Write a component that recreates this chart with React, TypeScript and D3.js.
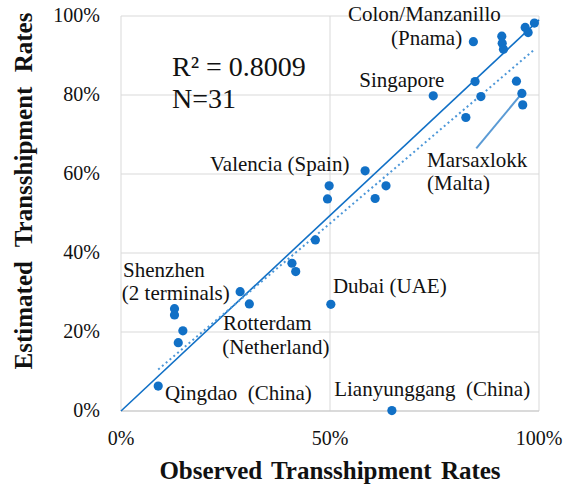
import React from "react";
import * as d3 from "d3";

// Observed vs. estimated transshipment rates, one entry per port
const observed = [
  0.989, 0.967, 0.974, 0.911, 0.912, 0.915, 0.843, 0.847, 0.946, 0.747,
  0.861, 0.959, 0.961, 0.825, 0.584, 0.498, 0.494, 0.634, 0.608, 0.465,
  0.409, 0.418, 0.285, 0.307, 0.128, 0.128, 0.148, 0.137, 0.089, 0.502,
  0.648,
];
const estimated = [
  0.982, 0.971, 0.958, 0.949, 0.931, 0.916, 0.935, 0.834, 0.835, 0.798,
  0.796, 0.804, 0.775, 0.743, 0.608, 0.57, 0.537, 0.57, 0.538, 0.433,
  0.374, 0.353, 0.302, 0.271, 0.259, 0.243, 0.203, 0.173, 0.063, 0.27,
  0.001,
];

const yTicks = [0, 0.2, 0.4, 0.6, 0.8, 1];
const xTicks = [0, 0.5, 1];

// 45-degree reference line
const refLine: [number, number][] = [
  [0, 0],
  [1, 0.99],
];

// Port name annotations: text plus the data-space anchor of its baseline start
const portLabels: { text: string; x: number; y: number }[] = [
  { text: "Colon/Manzanillo", x: 0.543, y: 0.987 },
  { text: "(Pnama)", x: 0.646, y: 0.927 },
  { text: "Singapore", x: 0.57, y: 0.82 },
  { text: "Marsaxlokk", x: 0.732, y: 0.618 },
  { text: "(Malta)", x: 0.732, y: 0.56 },
  { text: "Valencia (Spain)", x: 0.213, y: 0.607 },
  { text: "Shenzhen", x: 0.005, y: 0.339 },
  { text: "(2 terminals)", x: 0.002, y: 0.281 },
  { text: "Rotterdam", x: 0.244, y: 0.205 },
  { text: "(Netherland)", x: 0.242, y: 0.144 },
  { text: "Qingdao  (China)", x: 0.105, y: 0.028 },
  { text: "Dubai (UAE)", x: 0.507, y: 0.299 },
  { text: "Lianyunggang  (China)", x: 0.51, y: 0.038 },
];

const W = 568;
const H = 484;
const plot = { left: 121, right: 539, top: 16, bottom: 411 };
const serif = '"Liberation Serif", "Times New Roman", Tinos, "DejaVu Serif", serif';
const blue = "#1170c6";

export default function App() {
  const x = d3.scaleLinear().domain([0, 1]).range([plot.left, plot.right]);
  const y = d3.scaleLinear().domain([0, 1]).range([plot.bottom, plot.top]);

  // Least-squares trendline over the observed range
  const mx = d3.mean(observed) as number;
  const my = d3.mean(estimated) as number;
  let sxy = 0;
  let sxx = 0;
  observed.forEach((v, i) => {
    sxy += (v - mx) * (estimated[i] - my);
    sxx += (v - mx) * (v - mx);
  });
  const slope = sxy / sxx;
  const intercept = my - slope * mx;
  const [xmin, xmax] = d3.extent(observed) as [number, number];
  const trend: [number, number][] = [
    [xmin, intercept + slope * xmin],
    [xmax, intercept + slope * xmax],
  ];
  const line = d3
    .line<[number, number]>()
    .x((d) => x(d[0]))
    .y((d) => y(d[1]));

  // Marsaxlokk pointer
  const malta = 11;
  const pointer: [number, number][] = [
    [observed[malta], estimated[malta]],
    [0.85, 0.665],
  ];

  const txt = { fontFamily: serif, fill: "#111" } as React.CSSProperties;

  return (
    <svg
      width={W}
      height={H}
      style={{ position: "absolute", left: 0, top: 0, background: "#fff", fontFamily: serif }}
    >
      {/* grid */}
      {yTicks.map((t) => (
        <line
          key={"gy" + t}
          x1={plot.left}
          x2={plot.right}
          y1={y(t)}
          y2={y(t)}
          stroke="#d9d9d9"
          strokeWidth={1}
        />
      ))}
      {xTicks.map((t) => (
        <line
          key={"gx" + t}
          x1={x(t)}
          x2={x(t)}
          y1={plot.top}
          y2={plot.bottom}
          stroke="#d9d9d9"
          strokeWidth={1}
        />
      ))}
      <line x1={plot.left} x2={plot.right} y1={plot.bottom} y2={plot.bottom} stroke="#c8c8c8" />

      {/* tick labels */}
      {yTicks.map((t) => (
        <text key={"ty" + t} x={100} y={y(t) + 6} textAnchor="end" fontSize={20} style={txt}>
          {d3.format(".0%")(t)}
        </text>
      ))}
      {xTicks.map((t) => (
        <text key={"tx" + t} x={x(t)} y={445} textAnchor="middle" fontSize={20} style={txt}>
          {d3.format(".0%")(t)}
        </text>
      ))}

      {/* axis titles */}
      <text
        x={330}
        y={479}
        textAnchor="middle"
        fontSize={25}
        fontWeight="bold"
        style={{ ...txt, wordSpacing: "3px" }}
      >
        Observed Transshipment Rates
      </text>
      <text
        transform={`translate(32,191) rotate(-90)`}
        textAnchor="middle"
        fontSize={25}
        fontWeight="bold"
        style={{ ...txt, wordSpacing: "8px" }}
      >
        Estimated Transshipment Rates
      </text>

      {/* lines */}
      <path d={line(refLine) || ""} stroke={blue} strokeWidth={1.6} fill="none" />
      <path
        d={line(trend) || ""}
        stroke="#4d97d8"
        strokeWidth={2}
        strokeDasharray="2,3"
        fill="none"
      />
      <path d={line(pointer) || ""} stroke="#5b9bd5" strokeWidth={2} fill="none" />

      {/* points */}
      {observed.map((v, i) => (
        <circle key={i} cx={x(v)} cy={y(estimated[i])} r={4.6} fill={blue} />
      ))}

      {/* annotations */}
      {portLabels.map((l) => (
        <text
          key={l.text}
          x={x(l.x)}
          y={y(l.y)}
          fontSize={21}
          style={{ ...txt, whiteSpace: "pre" }}
        >
          {l.text}
        </text>
      ))}
      <text x={172} y={76} fontSize={28} style={txt}>
        R² = 0.8009
      </text>
      <text x={172} y={108} fontSize={28} style={txt}>
        N=31
      </text>
    </svg>
  );
}
